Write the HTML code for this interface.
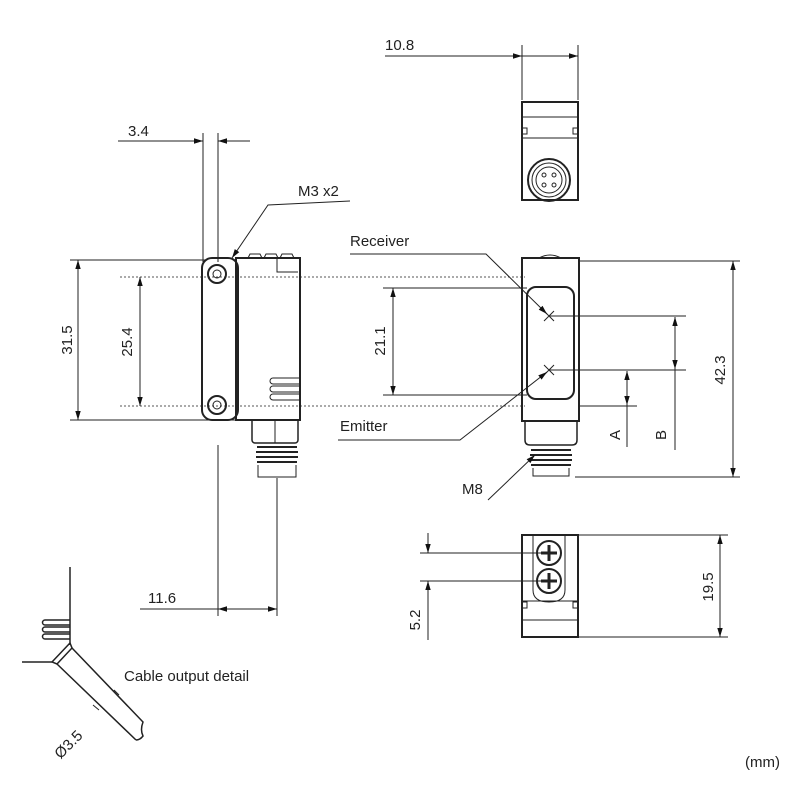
<!DOCTYPE html>
<html><head><meta charset="utf-8"><style>
html,body{margin:0;padding:0;background:#fff}
svg{display:block}
text{font-family:"Liberation Sans",sans-serif;font-size:15px;fill:#222}
</style></head><body>
<svg width="800" height="800" viewBox="0 0 800 800" xmlns="http://www.w3.org/2000/svg">
<defs>
<marker id="a" viewBox="0 0 10 10" refX="10" refY="5" markerWidth="9" markerHeight="9" orient="auto-start-reverse" markerUnits="userSpaceOnUse"><path d="M0,2 L10,5 L0,8 Z" fill="#111"/></marker>
</defs>
<g stroke="#222" stroke-width="1" fill="none">
<!-- dotted lines -->
<line x1="120" y1="277" x2="525" y2="277" stroke-dasharray="2,2" stroke="#555"/>
<line x1="120" y1="406" x2="525" y2="406" stroke-dasharray="2,2" stroke="#555"/>

<!-- 10.8 -->
<line x1="522" y1="45" x2="522" y2="100"/><line x1="578" y1="45" x2="578" y2="100"/>
<line x1="385" y1="56" x2="522" y2="56" marker-end="url(#a)"/>
<line x1="578" y1="56" x2="578" y2="56"/>
<line x1="522" y1="56" x2="578" y2="56" marker-end="url(#a)"/>

<!-- 3.4 -->
<line x1="203" y1="133" x2="203" y2="262"/><line x1="218" y1="133" x2="218" y2="262"/>
<line x1="118" y1="141" x2="203" y2="141" marker-end="url(#a)"/>
<line x1="250" y1="141" x2="218" y2="141" marker-end="url(#a)"/>

<!-- M3 leader -->
<polyline points="350,201 268,205 232,258" marker-end="url(#a)"/>

<!-- 31.5 -->
<line x1="70" y1="260" x2="205" y2="260"/><line x1="70" y1="420" x2="250" y2="420"/>
<line x1="78" y1="260" x2="78" y2="420" marker-start="url(#a)" marker-end="url(#a)"/>
<!-- 25.4 -->
<line x1="140" y1="277" x2="140" y2="406" marker-start="url(#a)" marker-end="url(#a)"/>

<!-- left view body -->
<rect x="202" y="258" width="36" height="162" rx="10" stroke-width="2"/>
<rect x="236" y="258" width="64" height="162" stroke-width="2"/>
<circle cx="217" cy="274" r="9" stroke-width="2"/><circle cx="217" cy="274" r="4"/>
<circle cx="217" cy="405" r="9" stroke-width="2"/><circle cx="217" cy="405" r="4"/>
<path d="M277,258 V272 H298"/>
<path d="M248,258 l2,-4 h10 l2,4 M264,258 l2,-4 h10 l2,4 M280,258 l2,-4 h10 l2,4"/>
<path d="M300,378 h-27 a3,3 0 0 0 0,6 h27 M300,386 h-27 a3,3 0 0 0 0,6 h27 M300,394 h-27 a3,3 0 0 0 0,6 h27"/>
<path d="M252,420 V440 a3,3 0 0 0 3,3 H295 a3,3 0 0 0 3,-3 V420" stroke-width="1.5"/>
<line x1="275" y1="420" x2="275" y2="443"/>
<path d="M257,447 h40 M256,452 h42 M256,457 h42 M257,462 h40" stroke-width="2"/>
<path d="M258,465 V477 H296 V465"/>

<!-- 11.6 -->
<line x1="218" y1="445" x2="218" y2="616"/><line x1="277" y1="478" x2="277" y2="616"/>
<line x1="140" y1="609" x2="218" y2="609"/>
<line x1="218" y1="609" x2="277" y2="609" marker-start="url(#a)" marker-end="url(#a)"/>

<!-- top view -->
<rect x="522" y="102" width="56" height="98" stroke-width="2"/>
<line x1="522" y1="117" x2="578" y2="117"/><line x1="522" y1="138" x2="578" y2="138"/>
<path d="M522,128 h5 v6 h-5 M578,128 h-5 v6 h5"/>
<circle cx="549" cy="180" r="21" stroke-width="2"/><circle cx="549" cy="180" r="17"/><circle cx="549" cy="180" r="13"/>
<circle cx="544" cy="175" r="2"/><circle cx="554" cy="175" r="2"/><circle cx="544" cy="185" r="2"/><circle cx="554" cy="185" r="2"/>

<!-- front right view -->
<rect x="522" y="258" width="57" height="163" stroke-width="2"/>
<path d="M539,258 q11,-6 22,0"/>
<rect x="527" y="287" width="47" height="112" rx="9" stroke-width="2"/>
<path d="M544,311 l10,10 M554,311 l-10,10 M544,365 l10,10 M554,365 l-10,10"/>
<path d="M525,421 V440 q0,5 5,5 H572 q5,0 5,-5 V421" stroke-width="1.5"/>
<path d="M531,450 h40 M530,455 h42 M530,460 h42 M531,465 h40" stroke-width="2"/>
<path d="M533,468 V476 H569 V468"/>

<!-- 21.1 -->
<line x1="383" y1="288" x2="527" y2="288"/><line x1="383" y1="395" x2="527" y2="395"/>
<line x1="393" y1="288" x2="393" y2="395" marker-start="url(#a)" marker-end="url(#a)"/>
<!-- receiver/emitter -->
<polyline points="350,254 486,254 547,314" marker-end="url(#a)"/>
<polyline points="338,440 460,440 547,372" marker-end="url(#a)"/>
<polyline points="488,500 535,455" marker-end="url(#a)"/>
<!-- A / B -->
<line x1="549" y1="316" x2="686" y2="316"/><line x1="549" y1="370" x2="686" y2="370"/>
<line x1="580" y1="406" x2="637" y2="406"/>
<line x1="627" y1="447" x2="627" y2="371" marker-end="url(#a)"/>
<line x1="627" y1="390" x2="627" y2="405" marker-end="url(#a)"/>
<line x1="675" y1="450" x2="675" y2="317" marker-end="url(#a)"/>
<line x1="675" y1="340" x2="675" y2="369" marker-end="url(#a)"/>
<!-- 42.3 -->
<line x1="580" y1="261" x2="740" y2="261"/><line x1="575" y1="477" x2="740" y2="477"/>
<line x1="733" y1="261" x2="733" y2="477" marker-start="url(#a)" marker-end="url(#a)"/>

<!-- bottom view -->
<rect x="522" y="535" width="56" height="102" stroke-width="2"/>
<path d="M533,535 V590 q0,12 16,12 q16,0 16,-12 V535"/>
<line x1="522" y1="601" x2="578" y2="601"/><line x1="522" y1="620" x2="578" y2="620"/>
<path d="M522,602 h5 v6 h-5 M578,602 h-5 v6 h5"/>
<circle cx="549" cy="553" r="12" stroke-width="2"/><circle cx="549" cy="581" r="12" stroke-width="2"/>
<path d="M549,545 v16 M541,553 h16 M549,573 v16 M541,581 h16" stroke-width="3"/>
<!-- 5.2 -->
<line x1="420" y1="553" x2="549" y2="553"/><line x1="420" y1="581" x2="549" y2="581"/>
<line x1="428" y1="533" x2="428" y2="553" marker-end="url(#a)"/>
<line x1="428" y1="640" x2="428" y2="581" marker-end="url(#a)"/>
<!-- 19.5 -->
<line x1="578" y1="535" x2="728" y2="535"/><line x1="578" y1="637" x2="728" y2="637"/>
<line x1="720" y1="535" x2="720" y2="637" marker-start="url(#a)" marker-end="url(#a)"/>

<!-- cable detail -->
<line x1="70" y1="567" x2="70" y2="645" stroke-width="1.5"/>
<line x1="22" y1="662" x2="52" y2="662" stroke-width="1.5"/>
<path d="M70,620 h-25 a2.5,2.5 0 0 0 0,5 h25 M70,627 h-25 a2.5,2.5 0 0 0 0,5 h25 M70,634 h-25 a2.5,2.5 0 0 0 0,5 h25" stroke-width="1.5"/>
<path d="M52,662 L70,643 L72,648 L57,664 Z" stroke-width="1.5"/>
<path d="M57,664 L136,740 M72,648 L143,722 q-3,8 0,14 q-3,4 -7,4" stroke-width="1.5"/>
<line x1="114" y1="690" x2="119" y2="695"/>
<line x1="93" y1="705" x2="99" y2="710"/>
</g>
<text x="385" y="50">10.8</text>
<text x="128" y="136">3.4</text>
<text x="298" y="196">M3 x2</text>
<text transform="translate(72,340) rotate(-90)" text-anchor="middle">31.5</text>
<text transform="translate(132,342) rotate(-90)" text-anchor="middle">25.4</text>
<text x="148" y="603">11.6</text>
<text x="350" y="246">Receiver</text>
<text x="340" y="431">Emitter</text>
<text x="462" y="494">M8</text>
<text transform="translate(385,341) rotate(-90)" text-anchor="middle">21.1</text>
<text transform="translate(620,435) rotate(-90)" text-anchor="middle">A</text>
<text transform="translate(666,435) rotate(-90)" text-anchor="middle">B</text>
<text transform="translate(725,370) rotate(-90)" text-anchor="middle">42.3</text>
<text transform="translate(713,587) rotate(-90)" text-anchor="middle">19.5</text>
<text transform="translate(420,620) rotate(-90)" text-anchor="middle">5.2</text>
<text x="124" y="681">Cable output detail</text>
<text transform="translate(72,748) rotate(-45)" text-anchor="middle">Ø3.5</text>
<text x="745" y="767">(mm)</text>
</svg>
</body></html>
